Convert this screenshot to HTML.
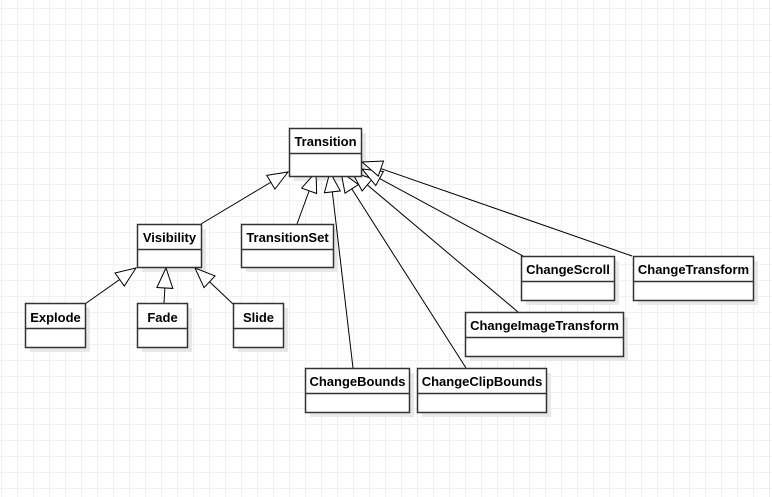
<!DOCTYPE html>
<html><head><style>
html,body{margin:0;padding:0;background:#fff}
body{width:772px;height:497px;overflow:hidden;
background-image:linear-gradient(#f0f0f0 1px,transparent 1px),linear-gradient(90deg,#f0f0f0 1px,transparent 1px);
background-size:16px 16px;background-position:0 8px,1px 0}
svg{position:absolute;left:0;top:0}
text{font-family:"Liberation Sans",sans-serif;font-weight:bold;font-size:13px;fill:#000}
</style></head><body>
<svg width="772" height="497" xmlns="http://www.w3.org/2000/svg">
<defs>
<marker id="h" markerWidth="24" markerHeight="20" refX="21" refY="9" orient="auto" markerUnits="userSpaceOnUse">
<path d="M1,1 L21,9 L1,17 Z" fill="#fff" stroke="#000" stroke-width="1"/>
</marker>
</defs>
<g fill="#e8e8e8">
<rect x="294" y="133" width="72" height="48"/>
<rect x="142" y="229" width="64" height="43"/>
<rect x="246" y="229" width="92" height="43"/>
<rect x="30" y="308" width="60" height="44"/>
<rect x="142" y="308" width="50" height="44"/>
<rect x="238" y="308" width="50" height="44"/>
<rect x="526" y="261" width="93" height="44"/>
<rect x="638" y="261" width="120" height="44"/>
<rect x="470" y="317" width="158" height="44"/>
<rect x="310" y="373" width="104" height="44"/>
<rect x="422" y="373" width="129" height="44"/>
</g>
<g stroke="#000" stroke-width="1" fill="none">
<line x1="201" y1="224" x2="288" y2="172" marker-end="url(#h)"/>
<line x1="297" y1="224" x2="316" y2="172" marker-end="url(#h)"/>
<line x1="353" y1="368" x2="330" y2="172" marker-end="url(#h)"/>
<line x1="466" y1="368" x2="341" y2="172" marker-end="url(#h)"/>
<line x1="518" y1="312" x2="352" y2="172" marker-end="url(#h)"/>
<line x1="523" y1="256" x2="362" y2="169" marker-end="url(#h)"/>
<line x1="632" y1="256" x2="362" y2="162" marker-end="url(#h)"/>
<line x1="85" y1="304" x2="136" y2="268" marker-end="url(#h)"/>
<line x1="164" y1="303" x2="166" y2="268" marker-end="url(#h)"/>
<line x1="233" y1="304" x2="195" y2="268" marker-end="url(#h)"/>
</g>
<g fill="#fff" stroke="#333" stroke-width="1.5">
<rect x="289.5" y="128.5" width="72" height="48"/><line x1="289.5" y1="153.5" x2="361.5" y2="153.5"/>
<rect x="137.5" y="224.5" width="64" height="43"/><line x1="137.5" y1="249.5" x2="201.5" y2="249.5"/>
<rect x="241.5" y="224.5" width="92" height="43"/><line x1="241.5" y1="249.5" x2="333.5" y2="249.5"/>
<rect x="25.5" y="303.5" width="60" height="44"/><line x1="25.5" y1="328.5" x2="85.5" y2="328.5"/>
<rect x="137.5" y="303.5" width="50" height="44"/><line x1="137.5" y1="328.5" x2="187.5" y2="328.5"/>
<rect x="233.5" y="303.5" width="50" height="44"/><line x1="233.5" y1="328.5" x2="283.5" y2="328.5"/>
<rect x="521.5" y="256.5" width="93" height="44"/><line x1="521.5" y1="281.5" x2="614.5" y2="281.5"/>
<rect x="633.5" y="256.5" width="120" height="44"/><line x1="633.5" y1="281.5" x2="753.5" y2="281.5"/>
<rect x="465.5" y="312.5" width="158" height="44"/><line x1="465.5" y1="337.5" x2="623.5" y2="337.5"/>
<rect x="305.5" y="368.5" width="104" height="44"/><line x1="305.5" y1="393.5" x2="409.5" y2="393.5"/>
<rect x="417.5" y="368.5" width="129" height="44"/><line x1="417.5" y1="393.5" x2="546.5" y2="393.5"/>
</g>
<g text-anchor="middle">
<text x="325.5" y="146">Transition</text>
<text x="169.5" y="242">Visibility</text>
<text x="287.5" y="242">TransitionSet</text>
<text x="55.5" y="322">Explode</text>
<text x="162.5" y="322">Fade</text>
<text x="258.5" y="322">Slide</text>
<text x="568" y="274">ChangeScroll</text>
<text x="693.5" y="274">ChangeTransform</text>
<text x="544.5" y="330">ChangeImageTransform</text>
<text x="357.5" y="386">ChangeBounds</text>
<text x="482" y="386">ChangeClipBounds</text>
</g>
</svg>
</body></html>
